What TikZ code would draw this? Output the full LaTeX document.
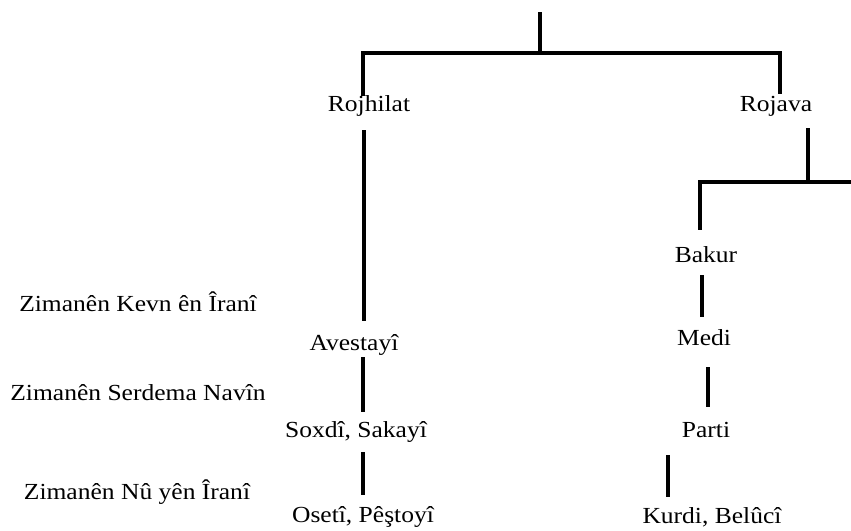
\documentclass[tikz,border=0pt]{standalone}
\usepackage{fontspec}
\setmainfont{Liberation Serif}[FakeStretch=1.11]
\begin{document}
\begin{tikzpicture}[x=1pt,y=-1pt,
  lbl/.style={inner sep=0pt,font=\fontsize{23}{26}\selectfont},
  ln/.style={line width=4pt,line cap=butt}]
\useasboundingbox (0,0) rectangle (851,530);
% text nodes
\node[lbl] (rojhilat) at (369,106) {Rojhilat};
\node[lbl] (rojava) at (776,106) {Rojava};
\node[lbl] (bakur) at (706,255) {Bakur};
\node[lbl] (medi) at (704,338) {Medi};
\node[lbl] (parti) at (706,430) {Parti};
\node[lbl] (kurdi) at (712,517) {Kurdi, Belûcî};
\node[lbl] (avesta) at (354,345) {Avestayî};
\node[lbl] (soxdi) at (356,432) {Soxdî, Sakayî};
\node[lbl] (oseti) at (363,517) {Osetî, Pêştoyî};
\node[lbl] (kevn) at (138,302) {Zimanên Kevn ên Îranî};
\node[lbl] (navin) at (138,393) {Zimanên Serdema Navîn};
\node[lbl] (nu) at (137,492) {Zimanên Nû yên Îranî};
% junction coordinates
\coordinate (top) at (540,12);
\coordinate (barM) at (540,53);
\coordinate (barL) at (363,53);
\coordinate (barR) at (780,53);
\coordinate (rojhilatT) at (363,96);
\coordinate (rojavaT) at (780,94);
\coordinate (rojavaB) at (808,128);
\coordinate (bar2R) at (808,182);
\coordinate (bar2L) at (700,182);
\coordinate (bar2E) at (851,182);
\coordinate (bakurT) at (700,230);
% connectors
\draw[ln] (top) -- (barM);
\draw[ln] ([xshift=-2pt]barL) -- ([xshift=2pt]barR);
\draw[ln] (barL) -- (rojhilatT);
\draw[ln] (barR) -- (rojavaT);
\draw[ln] (rojavaB) -- (bar2R);
\draw[ln] ([xshift=-2pt]bar2L) -- (bar2E);
\draw[ln] (bar2L) -- (bakurT);
\draw[ln] (702,275) -- (702,317);
\draw[ln] (708,367) -- (708,407);
\draw[ln] (668,455) -- (668,497);
\draw[ln] (364,130) -- (364,321);
\draw[ln] (363,357) -- (363,412);
\draw[ln] (363,452) -- (363,495);
\end{tikzpicture}
\end{document}
